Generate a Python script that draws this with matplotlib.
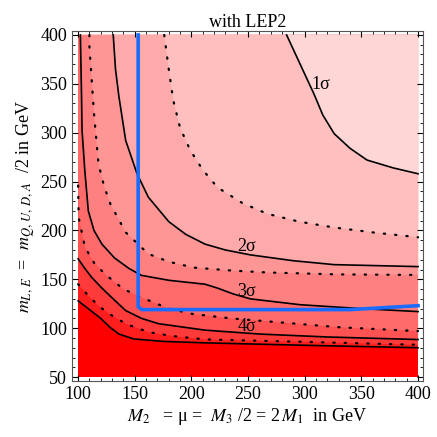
import matplotlib
matplotlib.use('Agg')
import matplotlib.pyplot as plt
from matplotlib.ticker import MultipleLocator

plt.rcParams.update({
    'font.family': ['Liberation Serif', 'DejaVu Serif'],
    'mathtext.fontset': 'stix',
    'font.size': 12,
})

# contour curves, (x, y) in GeV, lightest to darkest
c1 = [(284, 400), (296, 370), (308, 340), (316, 318), (326, 299), (340, 284), (355, 272), (378, 264), (400, 258)]
c15 = [(176, 400), (180, 365), (184, 333), (190, 305), (199, 282), (210, 262), (223, 244), (245, 228), (267, 217), (295, 209), (326, 203), (360, 198), (400, 193)]
c2 = [(131, 400), (133, 365), (136, 337), (142, 292), (152, 258), (162, 234), (180, 209), (195, 196), (212, 186), (230, 180), (252, 175), (290, 169), (326, 165), (400, 163)]
c25 = [(110, 400), (110, 388), (114, 320), (118, 268), (123, 245), (128.5, 227), (142, 198), (162, 176), (180, 168), (202, 162), (235, 159), (267, 157), (330, 155), (400, 154.5)]
c3 = [(102, 400), (103, 340), (103.5, 302), (106, 260), (109, 220), (114, 200), (121, 186), (132, 172), (145, 161), (156, 154), (180, 149), (212, 145), (223, 141), (237, 135), (252, 130), (296, 124), (350, 120), (400, 117)]
c35 = [(100, 246), (100.5, 213), (106, 183), (114, 167), (124, 155), (140, 140), (159, 130), (180, 120), (201, 114.6), (235, 110), (267, 107), (330, 101), (400, 97)]
c4 = [(100, 171), (106, 161), (112, 152), (121, 141), (130, 131), (142, 118), (156, 110), (171, 104.6), (212, 98), (260, 94), (320, 91), (400, 88.4)]
c45 = [(100, 145), (110, 132), (120, 121), (131, 112), (143, 104), (162, 96), (183, 92), (212, 88.5), (300, 86), (400, 83)]
c5 = [(100, 128), (110, 119), (120, 110), (128, 101), (136, 94), (149, 89), (175, 86.5), (212, 85), (300, 82.5), (400, 80)]

curves = [c1, c15, c2, c25, c3, c35, c4, c45, c5]
dotted = [False, True, False, True, False, True, False, True, False]
band_colors = ['#ffd6d6', '#ffbfbf', '#ffaaaa', '#ff9696', '#ff8080',
               '#ff6a6a', '#ff5252', '#ff3a3a', '#ff1e1e', '#ff0000']

labels = ['1σ', '2σ', '3σ', '4σ']
label_xy = [(314, 349), (249, 184), (249, 138), (249, 102)]

# blue LEP2 bound
lep_x = [153, 153, 156, 340, 400]
lep_y = [400, 122, 119, 119, 123]

fig = plt.figure(figsize=(4.37, 4.37), dpi=100)
ax = fig.add_axes([0.165, 0.128, 0.803, 0.801])

# darkest background, then lighter regions above each curve
ax.fill([100, 400, 400, 100], [50, 50, 400, 400], color=band_colors[-1], lw=0)
for i in range(len(curves) - 1, -1, -1):
    pts = curves[i] + [(400, 400)]
    if curves[i][0][0] <= 100:
        pts = pts + [(100, 400)]
    xs, ys = zip(*pts)
    ax.fill(xs, ys, color=band_colors[i], lw=0)

for c, d in zip(curves, dotted):
    xs, ys = zip(*c)
    if d:
        ax.plot(xs, ys, color='black', lw=1.6, ls=(0, (0.6, 4.5)), dash_capstyle='round')
    else:
        ax.plot(xs, ys, color='black', lw=1.2)

for t, (x, y) in zip(labels, label_xy):
    ax.text(x, y, t, fontsize=13, ha='center', va='center')

ax.plot(lep_x, lep_y, color='#1a6cff', lw=2.6, solid_joinstyle='round')

ax.set_xlim(94.7, 404.4)
ax.set_ylim(45.9, 404)
ax.xaxis.set_major_locator(MultipleLocator(50))
ax.yaxis.set_major_locator(MultipleLocator(50))
ax.xaxis.set_minor_locator(MultipleLocator(10))
ax.yaxis.set_minor_locator(MultipleLocator(10))
ax.tick_params(which='both', direction='in', top=True, right=True, labelsize=13)
ax.tick_params(which='major', length=4)
ax.tick_params(which='minor', length=2)
for s in ax.spines.values():
    s.set_color('#555555')
    s.set_linewidth(0.8)

ax.set_title('with LEP2', fontsize=13, pad=3)
ax.set_xlabel(r'$M_2$   = μ =  $M_3$ /2 = 2$\,M_1$  in GeV', fontsize=13, labelpad=2)
ax.set_ylabel(r'$m_{L,\,E}$  =  $m_{Q,\,U,\,D,\,A}$  /2 in GeV', fontsize=13, labelpad=2)

fig.savefig('out.png', dpi=100)
